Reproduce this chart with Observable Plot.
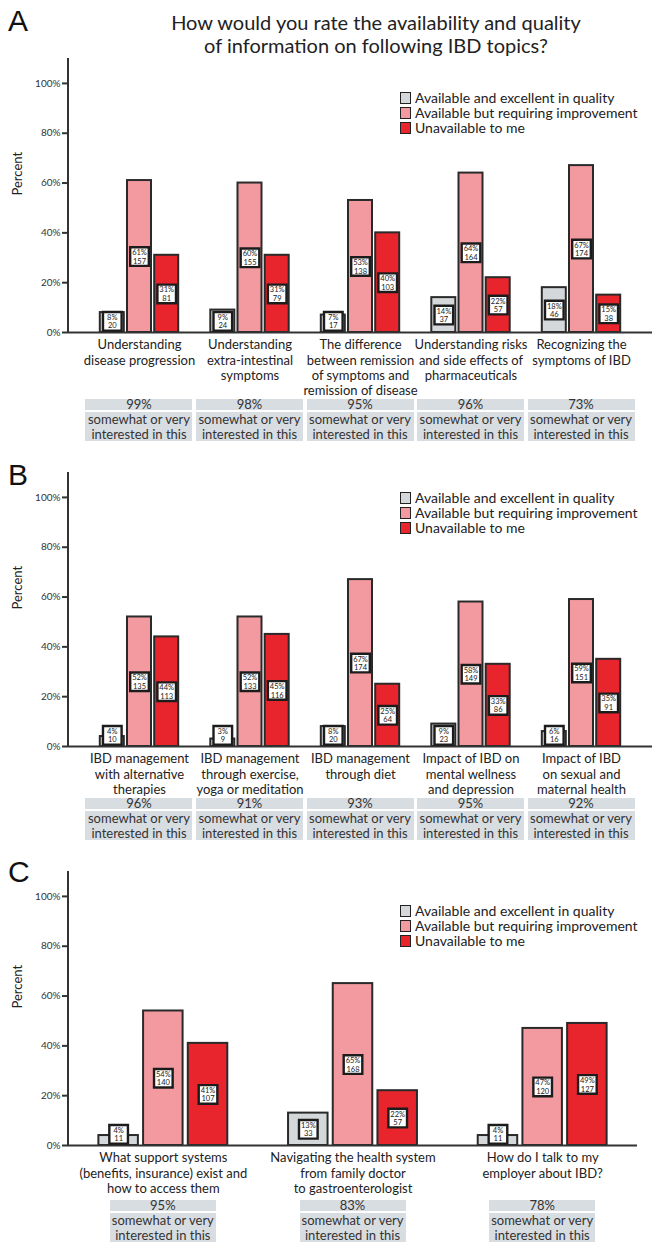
<!DOCTYPE html>
<html>
<head>
<meta charset="utf-8">
<script src="https://cdn.jsdelivr.net/npm/d3@7"></script>
<script src="https://cdn.jsdelivr.net/npm/@observablehq/plot@0.6"></script>
<style>
  body { margin: 0; background: #fff; }
  #root { position: relative; width: 657px; height: 1257px; overflow: hidden; font-family: Lato, "Open Sans", sans-serif; color: #222; background: #fff; }
  .abs { position: absolute; }
  .letter { font-family: "Liberation Sans", Arial, sans-serif; font-size: 30px; line-height: 30px; color: #111; }
  .title { left: 76px; width: 600px; text-align: center; font-size: 20px; line-height: 23px; color: #222; }
  .legend { font-size: 14px; line-height: 15px; color: #222; white-space: nowrap; }
  .legend .row { display: flex; align-items: center; height: 15px; }
  .legend .sw { width: 9px; height: 10px; border: 1.6px solid #222; margin-right: 4px; flex: none; }
  .ibox { text-align: center; color: #333; font-size: 13px; }
  .ibox .pct { background: #d8dde2; height: 11px; line-height: 11px; }
  .ibox .txt { background: #d8dde2; margin-top: 2px; height: 29px; line-height: 14.5px; }
  #root svg [aria-label^="y-axis"] line, #root svg [aria-label^="y-axis"] path { stroke: #333; stroke-width: 2px; }
</style>
</head>
<body>
<div id="root"></div>
<script>
const series = ["Available and excellent in quality", "Available but requiring improvement", "Unavailable to me"];
const colors = ["#d4d8da", "#f39aa0", "#e8252d"];
const interestText = "somewhat or very\ninterested in this";
const titleText = "How would you rate the availability and quality\nof information on following IBD topics?";

// Panel A
const catsA = ["Understanding\ndisease progression", "Understanding\nextra-intestinal\nsymptoms", "The difference\nbetween remission\nof symptoms and\nremission of disease", "Understanding risks\nand side effects of\npharmaceuticals", "Recognizing the\nsymptoms of IBD"];
const excellentPctA = [8, 9, 7, 14, 18];
const excellentNA = [20, 24, 17, 37, 46];
const improvePctA = [61, 60, 53, 64, 67];
const improveNA = [157, 155, 138, 164, 174];
const unavailPctA = [31, 31, 40, 22, 15];
const unavailNA = [81, 79, 103, 57, 38];
const interestA = [99, 98, 95, 96, 73];

// Panel B
const catsB = ["IBD management\nwith alternative\ntherapies", "IBD management\nthrough exercise,\nyoga or meditation", "IBD management\nthrough diet", "Impact of IBD on\nmental wellness\nand depression", "Impact of IBD\non sexual and\nmaternal health"];
const excellentPctB = [4, 3, 8, 9, 6];
const excellentNB = [10, 9, 20, 23, 16];
const improvePctB = [52, 52, 67, 58, 59];
const improveNB = [135, 133, 174, 149, 151];
const unavailPctB = [44, 45, 25, 33, 35];
const unavailNB = [113, 116, 64, 86, 91];
const interestB = [96, 91, 93, 95, 92];

// Panel C
const catsC = ["What support systems\n(benefits, insurance) exist and\nhow to access them", "Navigating the health system\nfrom family doctor\nto gastroenterologist", "How do I talk to my\nemployer about IBD?"];
const excellentPctC = [4, 13, 4];
const excellentNC = [11, 33, 11];
const improvePctC = [54, 65, 47];
const improveNC = [140, 168, 120];
const unavailPctC = [41, 22, 49];
const unavailNC = [107, 57, 127];
const interestC = [95, 83, 78];

const root = document.getElementById("root");
const W = 657, ML = 68;

function addDiv(cls, left, top, html, extra) {
  const d = document.createElement("div");
  d.className = "abs " + cls;
  if (left !== null) d.style.left = left + "px";
  d.style.top = top + "px";
  d.innerHTML = html;
  if (extra) Object.assign(d.style, extra);
  root.appendChild(d);
  return d;
}

function drawPanel(p) {
  const rows = [];
  p.cats.forEach((c, ci) => p.pcts.forEach((arr, si) => rows.push({cat: c, si, pct: arr[ci], n: p.ns[si][ci]})));
  const band = d3.scaleBand().domain(p.cats).range([ML, W - p.mr]).paddingInner(p.pad).paddingOuter(p.pad);
  const inset = (band.bandwidth() - p.barW) / 2;
  const labelY = r => Math.max(r.pct / 2, 4.5);
  const marks = [];
  series.forEach((s, si) => {
    const d = rows.filter(r => r.si === si);
    marks.push(Plot.barY(d, {x: "cat", y: "pct", fill: colors[si], stroke: "#2a2a2a", strokeWidth: 2,
      insetLeft: inset, insetRight: inset, dx: (si - 1) * p.offset}));
  });
  marks.push(Plot.ruleY([0], {stroke: "#333", strokeWidth: 2}));
  series.forEach((s, si) => {
    const d = rows.filter(r => r.si === si);
    const dx = (si - 1) * p.offset;
    marks.push(Plot.dot(d, {x: "cat", y: labelY, symbol: "square", r: 10.5, fill: "white", stroke: "#1c1c1c", strokeWidth: 2.4, dx}));
    marks.push(Plot.text(d, {x: "cat", y: labelY, text: r => `${r.pct}%\n${r.n}`, fontSize: 7.5, lineHeight: 1.15, fill: "#222", dx}));
  });
  marks.push(Plot.text(p.cats, {x: d => d, frameAnchor: "bottom", lineAnchor: "top", dy: 6, fontSize: 13, lineHeight: 1.17, fill: "#222"}));
  marks.push(Plot.text(["Percent"], {frameAnchor: "left", rotate: -90, dx: -51, fontSize: 13, fill: "#222"}));

  const chart = Plot.plot({
    width: W, height: p.height,
    marginLeft: ML, marginRight: p.mr, marginTop: 58, marginBottom: p.mb,
    x: {type: "band", domain: p.cats, paddingInner: p.pad, paddingOuter: p.pad, round: false, axis: null},
    y: {domain: [0, 110], ticks: 6, tickFormat: d => d + "%", tickSize: 6, tickPadding: 2, label: null},
    style: {fontFamily: "Lato, sans-serif", fontSize: "10px", color: "#333", background: "transparent", overflow: "visible"},
    marks
  });
  const holder = document.createElement("div");
  holder.className = "abs";
  holder.style.left = "0px";
  holder.style.top = p.top + "px";
  holder.appendChild(chart);
  root.appendChild(holder);

  // vertical axis line along the y scale range
  const ys = chart.scale("y");
  d3.select(chart).append("line")
    .attr("x1", ML).attr("x2", ML)
    .attr("y1", ys.range[0]).attr("y2", ys.range[1])
    .attr("stroke", "#333").attr("stroke-width", 2);

  // interest boxes, placed with the chart's x scale
  const xs = chart.scale("x");
  const bx = d3.scaleBand().domain(xs.domain).range(xs.range)
    .paddingInner(xs.paddingInner ?? p.pad).paddingOuter(xs.paddingOuter ?? p.pad).align(xs.align ?? 0.5);
  p.cats.forEach((c, i) => {
    const cx = bx(c) + bx.bandwidth() / 2;
    addDiv("ibox", cx - p.boxW / 2, p.interestTop,
      `<div class="pct">${p.interest[i]}%</div><div class="txt">${interestText.replace("\n", "<br>")}</div>`,
      {width: p.boxW + "px"});
  });

  // letter
  addDiv("letter", 8, p.letterTop, p.letter);
  // legend
  addDiv("legend", 400, p.legendTop,
    series.map((s, si) => `<div class="row"><span class="sw" style="background:${colors[si]}"></span>${s}</div>`).join(""));
}

addDiv("title", null, 11, titleText.replace("\n", "<br>"), {left: "76px"});

drawPanel({cats: catsA, pcts: [excellentPctA, improvePctA, unavailPctA], ns: [excellentNA, improveNA, unavailNA],
  interest: interestA, top: 0, height: 398, mb: 66, mr: 5, pad: 0.285, barW: 24, offset: 27.2, boxW: 107,
  interestTop: 399, letter: "A", letterTop: 6, legendTop: 90});
drawPanel({cats: catsB, pcts: [excellentPctB, improvePctB, unavailPctB], ns: [excellentNB, improveNB, unavailNB],
  interest: interestB, top: 414, height: 384, mb: 52, mr: 5, pad: 0.285, barW: 24, offset: 27.2, boxW: 107,
  interestTop: 798, letter: "B", letterTop: 460, legendTop: 490});
drawPanel({cats: catsC, pcts: [excellentPctC, improvePctC, unavailPctC], ns: [excellentNC, improveNC, unavailNC],
  interest: interestC, top: 813, height: 387, mb: 55, mr: 20, pad: 0, barW: 39.5, offset: 44.7, boxW: 106,
  interestTop: 1200, letter: "C", letterTop: 857, legendTop: 903});
</script>
</body>
</html>
